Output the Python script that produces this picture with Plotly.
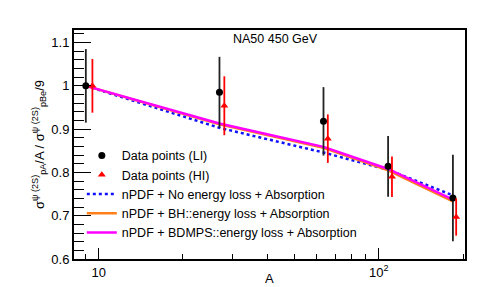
import plotly.graph_objects as go

# Data
A_LI = [9, 27, 63.5, 108, 184]
R_LI = [1.0, 0.985, 0.918, 0.814, 0.741]
E_LI = [0.085, 0.082, 0.079, 0.070, 0.100]

A_HI = [9.5, 28.1, 65.8, 111.5, 189]
R_HI = [1.0, 0.954, 0.878, 0.790, 0.697]
E_HI = [0.062, 0.068, 0.056, 0.047, 0.043]

A_TH = [9, 27, 63.5, 108, 184]
NO_ELOSS = [1.0, 0.903, 0.846, 0.806, 0.747]
BH_ELOSS = [1.0, 0.911, 0.857, 0.805, 0.733]
BDMPS_ELOSS = [1.0, 0.913, 0.859, 0.808, 0.737]

XTICKS = [10, 100]
XTICKTEXT = ["10", "10<sup>2</sup>"]
XMINOR = [9, 20, 30, 40, 50, 60, 70, 80, 90, 200]

FONT = "Liberation Sans, Arial, sans-serif"

fig = go.Figure()

fig.add_trace(go.Scatter(x=A_TH, y=NO_ELOSS, mode="lines",
                         line=dict(color="#1010ff", width=2.5, dash="dot"),
                         name="nPDF + No energy loss + Absorption", legendrank=3))
fig.add_trace(go.Scatter(x=A_TH, y=BH_ELOSS, mode="lines",
                         line=dict(color="#ff7f1a", width=2.5),
                         name="nPDF + BH::energy loss + Absorption", legendrank=4))
fig.add_trace(go.Scatter(x=A_TH, y=BDMPS_ELOSS, mode="lines",
                         line=dict(color="#ff00ff", width=2.5),
                         name="nPDF + BDMPS::energy loss + Absorption", legendrank=5))
fig.add_trace(go.Scatter(x=A_LI, y=R_LI, mode="markers",
                         marker=dict(color="black", size=7, symbol="circle"),
                         error_y=dict(type="data", array=E_LI, color="#222222", thickness=1.8, width=0),
                         name="Data points (LI)", legendrank=1))
fig.add_trace(go.Scatter(x=A_HI, y=R_HI, mode="markers",
                         marker=dict(color="#ff0000", size=7, symbol="triangle-up"),
                         error_y=dict(type="data", array=E_HI, color="#ff0000", thickness=1.8, width=0),
                         name="Data points (HI)", legendrank=2))

fig.update_layout(
    width=488, height=287,
    margin=dict(l=66, r=31, t=22, b=36),
    paper_bgcolor="white", plot_bgcolor="white",
    font=dict(family=FONT, size=13, color="black"),
    showlegend=True,
    legend=dict(x=0.02, y=0.516, xanchor="left", yanchor="top",
                bgcolor="rgba(0,0,0,0)", font=dict(size=12.5),
                itemwidth=30, tracegroupgap=0),
    annotations=[
        dict(text="NA50 450 GeV", x=0.515, y=0.96, xref="paper", yref="paper",
             showarrow=False, font=dict(size=12.5), xanchor="center", yanchor="middle"),
        dict(text="A", x=0.5, y=-0.085, xref="paper", yref="paper",
             showarrow=False, font=dict(size=13), xanchor="center", yanchor="middle"),
    ],
)

fig.update_xaxes(type="log", range=[0.912, 2.308],
                 tickmode="array", tickvals=XTICKS, ticktext=XTICKTEXT,
                 ticks="inside", ticklen=11, tickwidth=1, tickcolor="black",
                 minor=dict(tickmode="array", tickvals=XMINOR, ticks="inside", ticklen=5, tickcolor="black"),
                 showline=True, linecolor="black", linewidth=2, mirror=True,
                 showgrid=False, zeroline=False)
fig.update_yaxes(range=[0.6, 1.129], dtick=0.1, tick0=0.6,
                 ticks="inside", ticklen=17, tickwidth=1, tickcolor="black",
                 minor=dict(dtick=0.02, ticks="inside", ticklen=10, tickcolor="black"),
                 showline=True, linecolor="black", linewidth=2, mirror=True,
                 showgrid=False, zeroline=False,
                 title=dict(text="σ<sup>ψ (2S)</sup><sub>pA</sub>/A / σ<sup>ψ (2S)</sup><sub>pBe</sub>/9",
                            standoff=4, font=dict(size=13)))

fig.write_html("out.html")
